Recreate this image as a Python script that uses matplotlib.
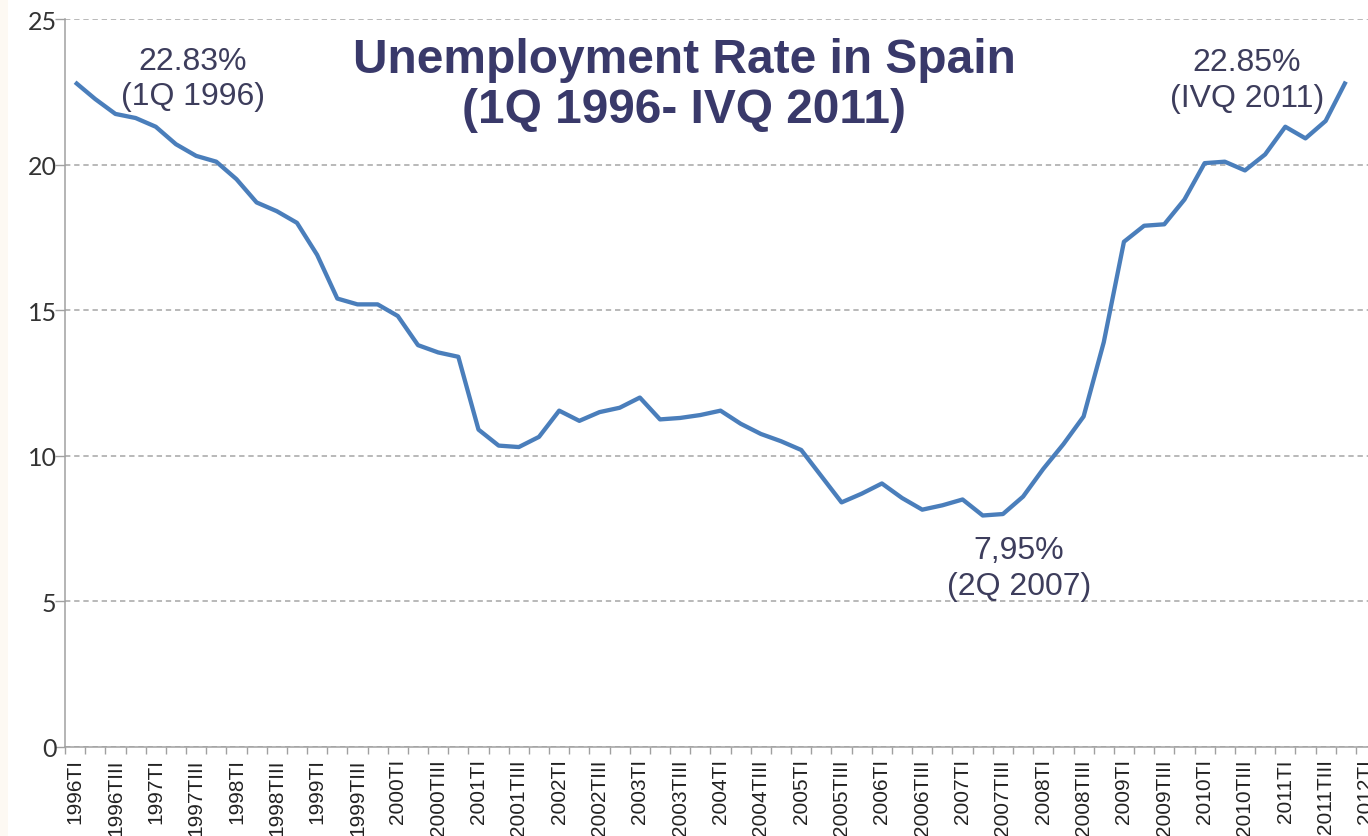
import matplotlib
matplotlib.use("Agg")
import matplotlib.pyplot as plt
from matplotlib.patches import Rectangle

# ---- data ----
rates = [22.83, 22.25, 21.74, 21.60, 21.30, 20.70, 20.30, 20.10,
         19.50, 18.70, 18.40, 18.00, 16.90, 15.40, 15.20, 15.20,
         14.80, 13.80, 13.55, 13.40, 10.90, 10.35, 10.30, 10.65,
         11.55, 11.20, 11.50, 11.65, 12.00, 11.25, 11.30, 11.40,
         11.55, 11.10, 10.75, 10.50, 10.20, 9.30, 8.40, 8.70,
         9.05, 8.55, 8.15, 8.30, 8.50, 7.95, 8.00, 8.60,
         9.55, 10.40, 11.35, 13.90, 17.35, 17.90, 17.95, 18.80,
         20.05, 20.10, 19.80, 20.35, 21.30, 20.90, 21.50, 22.85]
tick_labels = ["1996TI", "1996TIII", "1997TI", "1997TIII", "1998TI", "1998TIII",
               "1999TI", "1999TIII", "2000TI", "2000TIII", "2001TI", "2001TIII",
               "2002TI", "2002TIII", "2003TI", "2003TIII", "2004TI", "2004TIII",
               "2005TI", "2005TIII", "2006TI", "2006TIII", "2007TI", "2007TIII",
               "2008TI", "2008TIII", "2009TI", "2009TIII", "2010TI", "2010TIII",
               "2011TI", "2011TIII", "2012TI"]
y_ticks = [0, 5, 10, 15, 20, 25]
title_text = "Unemployment Rate in Spain\n(1Q 1996- IVQ 2011)"
annotations = [("22.83%\n(1Q 1996)", 5.85, 22.95),
               ("22.85%\n(IVQ 2011)", 58.1, 22.9),
               ("7,95%\n(2Q 2007)", 46.8, 6.15)]

fig = plt.figure(figsize=(13.68, 8.37), dpi=100)
fig.patch.set_facecolor("white")
fig.patches.append(Rectangle((0, 0), 8 / 1368, 1, transform=fig.transFigure,
                             facecolor="#fdf9f3", edgecolor="none", zorder=-1))
ax = fig.add_axes([65 / 1368, 1 - 748 / 837, 1 - 65 / 1368, (748 - 20) / 837])

x = list(range(len(rates)))
ax.plot(x, rates, color="#4a7ebb", lw=3.1, solid_joinstyle="round",
        solid_capstyle="butt", zorder=3)

ax.set_yticks(y_ticks)
ax.set_yticklabels([str(v) for v in y_ticks], fontsize=18, color="#333333",
                   family="Lato")
ax.yaxis.grid(True, linestyle=(0, (3.5, 2.5)), color="#a6a6a6", lw=1.1)
ax.tick_params(axis="y", length=7, width=1, color="#a0a0a0", pad=-1)

major_pos = list(range(0, 65, 2))
ax.set_xticks(major_pos)
ax.set_xticklabels(tick_labels, rotation=90, fontsize=15, color="#222222",
                   family="Liberation Sans", va="top", ha="center")
ax.set_xticks([i - 0.5 for i in range(0, 66)], minor=True)
ax.tick_params(axis="x", which="major", length=0, pad=8)
ax.tick_params(axis="x", which="minor", length=5, width=1, color="#a0a0a0")

ax.set_xlim(-0.5, 64.1)
ax.set_ylim(0, 25)

for s in ["top", "right"]:
    ax.spines[s].set_visible(False)
for s in ["left", "bottom"]:
    ax.spines[s].set_color("#a0a0a0")
    ax.spines[s].set_linewidth(1.1)

ax.text(30.2, 22.75, title_text, ha="center", va="center", fontsize=34.5,
        fontweight="bold", color="#39396a", family="Liberation Sans",
        linespacing=1.12)
for txt, ax_x, ax_y in annotations:
    ax.text(ax_x, ax_y, txt, ha="center", va="center", fontsize=23,
            color="#3d3d5c", family="Liberation Sans", linespacing=1.24)

fig.savefig("out.png", dpi=100, facecolor=fig.get_facecolor())
